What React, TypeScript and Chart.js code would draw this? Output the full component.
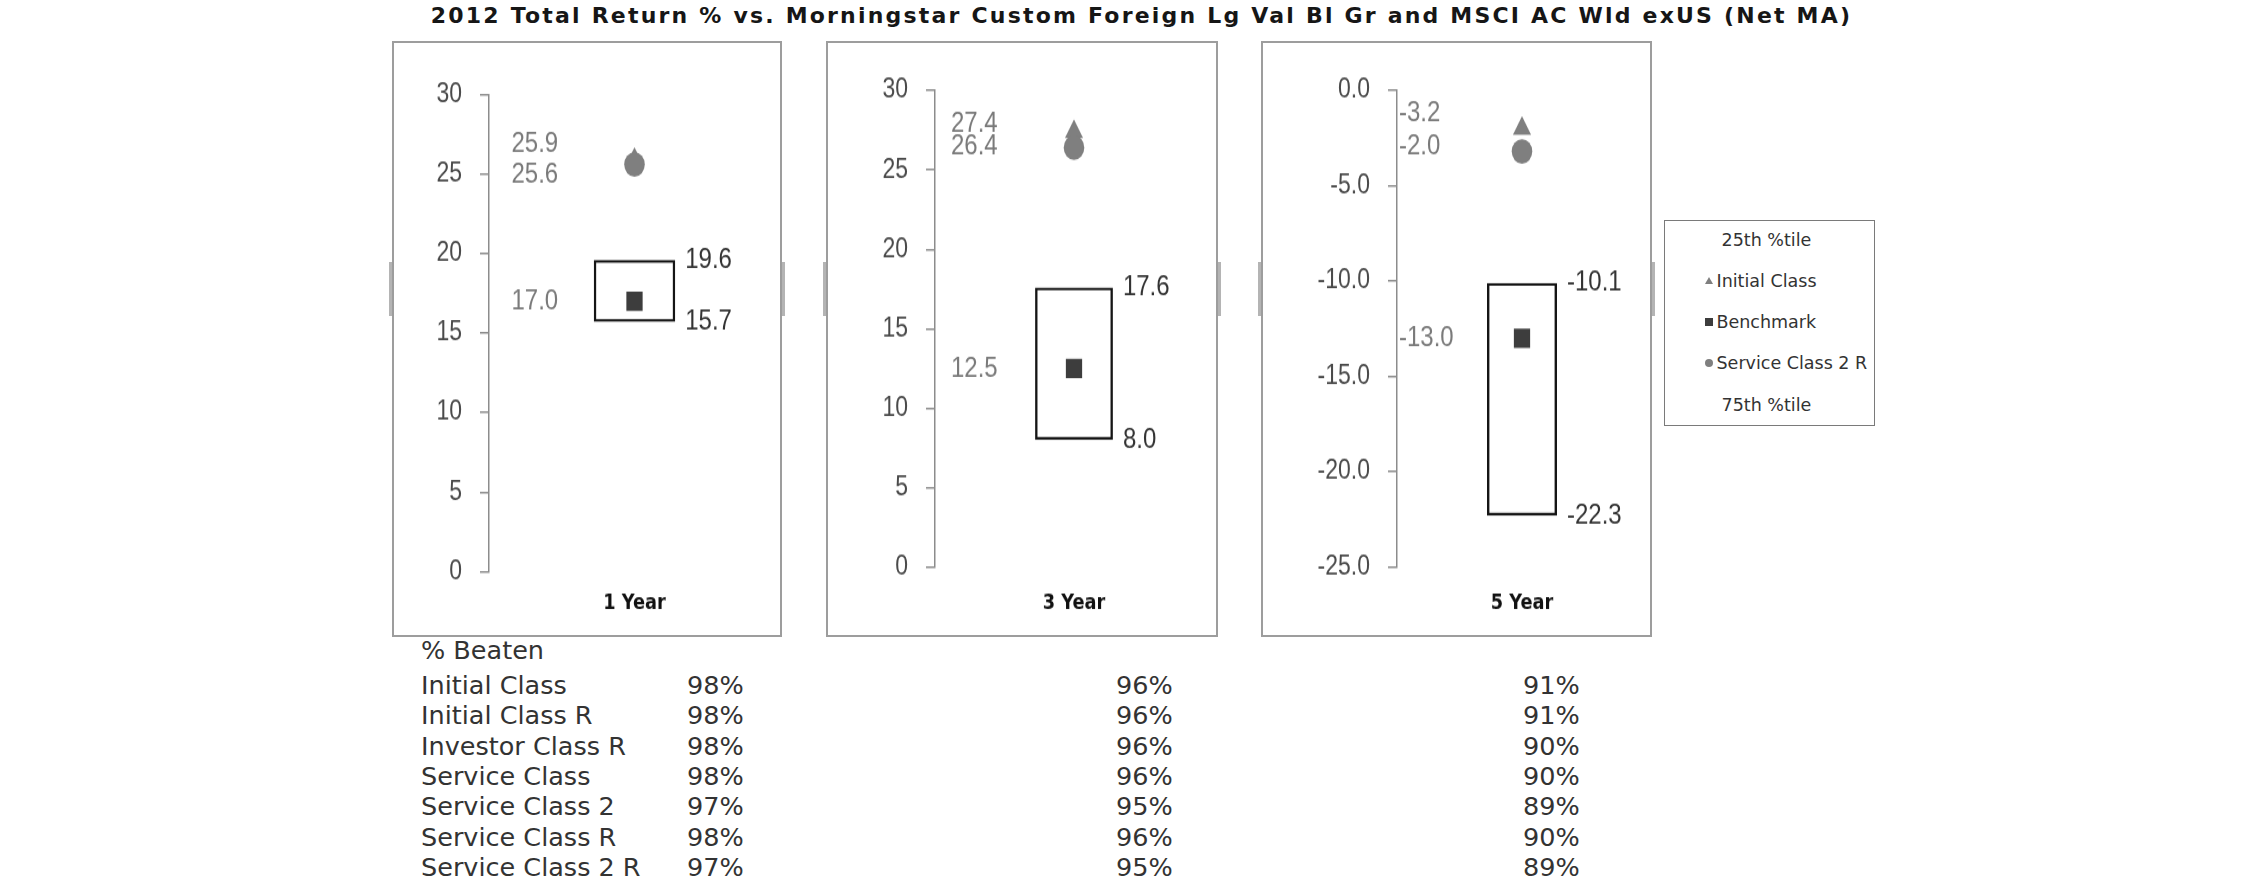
import React, { useEffect, useRef } from 'react';
import { Chart, registerables } from 'chart.js';

Chart.register(...registerables);

// ---------- data ----------
const titleText =
  '2012 Total Return % vs. Morningstar Custom Foreign Lg Val Bl Gr and MSCI AC Wld exUS (Net MA)';
const periods = ['1 Year', '3 Year', '5 Year'];
const pct25 = [19.6, 17.6, -10.1];
const pct75 = [15.7, 8.0, -22.3];
const benchmark = [17.0, 12.5, -13.0];
const initialClass = [25.9, 27.4, -2.0];
const serviceClass2R = [25.6, 26.4, -3.2];
const axisMin = [0, 0, -25];
const axisMax = [30, 30, 0];
const axisStep = [5, 5, 5];
const axisDecimals = [0, 0, 1];

const legendItems = ['25th %tile', 'Initial Class', 'Benchmark', 'Service Class 2 R', '75th %tile'];
const legendMarkers = ['', 'triangle', 'square', 'circle', ''];

const beatenTitle = '% Beaten';
const shareClasses = [
  'Initial Class',
  'Initial Class R',
  'Investor Class R',
  'Service Class',
  'Service Class 2',
  'Service Class R',
  'Service Class 2 R',
];
const beaten1Y = [98, 98, 98, 98, 97, 98, 97];
const beaten3Y = [96, 96, 96, 96, 95, 96, 95];
const beaten5Y = [91, 91, 90, 90, 89, 90, 89];

// ---------- layout ----------
// The original chart pictures are stretched vertically; each canvas is drawn
// at a smaller height and scaled up with CSS to reproduce that.
const CANVAS_H = 500;
const STRETCH = 592 / CANVAS_H;
const panelLayout = [
  { left: 392, top: 41, width: 390, height: 596, axisW: 95, padTop: 43.5, xAxisH: 53.6, padRight: 0, xTickPad: 16.2, labelGap: 30, labelShift: -2.8 },
  { left: 826, top: 41, width: 392, height: 596, axisW: 107, padTop: 40.1, xAxisH: 57.4, padRight: 3, xTickPad: 20, labelGap: 23, labelShift: -4.2 },
  { left: 1261, top: 41, width: 391, height: 596, axisW: 134, padTop: 40.1, xAxisH: 57.4, padRight: 3, xTickPad: 20, labelGap: 34, labelShift: -10.3 },
];
const beatenColX = [687, 1116, 1523];

const NUM_FONT = '"Liberation Sans", Arial, sans-serif';
const TXT_FONT = '"DejaVu Sans", Verdana, sans-serif';
const GRAY_MARK = '#7f7f7f';
const DARK_MARK = '#3d3d3d';

function makeLabelPlugin(i: number) {
  const L = panelLayout[i];
  return {
    id: 'valueLabels' + i,
    afterDatasetsDraw(chart: any) {
      const ctx = chart.ctx;
      const ys = chart.scales.y;
      const xs = chart.scales.x;
      const cx = xs.getPixelForValue(0);
      const bar = chart.getDatasetMeta(0).data[0] as any;
      const half = bar.width / 2;
      const fmt = (v: number) => v.toFixed(1);
      ctx.save();
      ctx.font = `24px ${NUM_FONT}`;
      ctx.textBaseline = 'middle';
      ctx.textAlign = 'left';
      // percentile labels on the right of the box
      ctx.fillStyle = '#333333';
      ctx.fillText(fmt(pct25[i]), cx + half + 10, ys.getPixelForValue(pct25[i]));
      ctx.fillText(fmt(pct75[i]), cx + half + 10, ys.getPixelForValue(pct75[i]));
      // fund / benchmark labels on the left
      const lx = cx - 123;
      ctx.fillStyle = '#7a7a7a';
      ctx.fillText(fmt(benchmark[i]), lx, ys.getPixelForValue(benchmark[i]));
      const pair = [initialClass[i], serviceClass2R[i]].sort((a, b) => Math.abs(b) - Math.abs(a));
      const mid = (ys.getPixelForValue(pair[0]) + ys.getPixelForValue(pair[1])) / 2 + L.labelShift / STRETCH;
      const g = L.labelGap / 2 / STRETCH;
      ctx.fillText(fmt(pair[0]), lx, mid - g);
      ctx.fillText(fmt(pair[1]), lx, mid + g);
      ctx.restore();
    },
  };
}

function Panel({ i }: { i: number }) {
  const ref = useRef<HTMLCanvasElement | null>(null);
  const L = panelLayout[i];
  useEffect(() => {
    if (!ref.current) return;
    const chart = new Chart(ref.current, {
      type: 'bar',
      data: {
        labels: [periods[i]],
        datasets: [
          {
            type: 'bar',
            label: '25th - 75th %tile',
            data: [[pct75[i], pct25[i]]] as any,
            backgroundColor: 'rgba(255,255,255,0)',
            borderColor: '#151515',
            borderWidth: 2.4,
            borderSkipped: false,
            barPercentage: 0.28,
            categoryPercentage: 1,
            order: 4,
          } as any,
          {
            type: 'line',
            label: 'Benchmark',
            data: [benchmark[i]],
            showLine: false,
            pointStyle: 'rect',
            pointRadius: 11.5,
            pointBackgroundColor: DARK_MARK,
            pointBorderColor: DARK_MARK,
            pointBorderWidth: 0,
            order: 3,
          } as any,
          {
            type: 'line',
            label: 'Initial Class',
            data: [initialClass[i]],
            showLine: false,
            pointStyle: 'triangle',
            pointRadius: 10.5,
            pointBackgroundColor: GRAY_MARK,
            pointBorderColor: GRAY_MARK,
            pointBorderWidth: 0,
            order: 2,
          } as any,
          {
            type: 'line',
            label: 'Service Class 2 R',
            data: [serviceClass2R[i]],
            showLine: false,
            pointStyle: 'circle',
            pointRadius: 10.3,
            pointBackgroundColor: GRAY_MARK,
            pointBorderColor: GRAY_MARK,
            pointBorderWidth: 0,
            order: 1,
          } as any,
        ],
      },
      options: {
        animation: false,
        responsive: false,
        maintainAspectRatio: false,
        events: [],
        layout: { autoPadding: false, padding: { top: L.padTop, right: L.padRight, left: 0, bottom: 0 } },
        plugins: {
          legend: { display: false },
          tooltip: { enabled: false },
          title: { display: false },
        },
        scales: {
          x: {
            type: 'category',
            grid: { display: false, drawTicks: false },
            border: { display: false },
            ticks: {
              padding: L.xTickPad,
              color: '#111111',
              font: { family: TXT_FONT, size: 17.8, weight: 'bold' },
            },
            afterFit: (s: any) => {
              s.height = L.xAxisH;
              s.paddingLeft = 0;
              s.paddingRight = 0;
            },
          },
          y: {
            type: 'linear',
            min: axisMin[i],
            max: axisMax[i],
            grid: {
              display: true,
              drawOnChartArea: false,
              drawTicks: true,
              tickLength: 9,
              color: '#8c8c8c',
              lineWidth: 1.5,
            },
            border: { display: true, color: '#8c8c8c', width: 1.5 },
            ticks: {
              stepSize: axisStep[i],
              padding: 18,
              color: '#4a4a4a',
              font: { family: NUM_FONT, size: 23 },
              callback: (v: any) => Number(v).toFixed(axisDecimals[i]),
            },
            afterFit: (s: any) => {
              s.width = L.axisW;
            },
          },
        },
      } as any,
      plugins: [makeLabelPlugin(i)],
    });
    return () => chart.destroy();
  }, [i]);
  const handle = (side: 'left' | 'right') => (
    <div
      style={{
        position: 'absolute',
        [side]: -5,
        top: 219,
        width: 3,
        height: 54,
        background: '#b4b4b4',
      }}
    />
  );
  return (
    <div
      style={{
        position: 'absolute',
        left: L.left,
        top: L.top,
        width: L.width,
        height: L.height,
        border: '2px solid #9d9d9d',
        boxSizing: 'border-box',
        background: '#ffffff',
      }}
    >
      {handle('left')}
      {handle('right')}
      <canvas
        ref={ref}
        width={L.width - 4}
        height={CANVAS_H}
        style={{ position: 'absolute', left: 0, top: 0, width: L.width - 4, height: L.height - 4 }}
      />
    </div>
  );
}

function LegendMarker({ kind }: { kind: string }) {
  if (kind === 'triangle')
    return (
      <div
        style={{
          position: 'absolute',
          left: -4,
          top: -4,
          width: 0,
          height: 0,
          borderLeft: '4px solid transparent',
          borderRight: '4px solid transparent',
          borderBottom: `7px solid ${GRAY_MARK}`,
        }}
      />
    );
  if (kind === 'square')
    return <div style={{ position: 'absolute', left: -4, top: -4, width: 8, height: 8, background: DARK_MARK }} />;
  if (kind === 'circle')
    return (
      <div
        style={{ position: 'absolute', left: -4, top: -4, width: 8, height: 8, borderRadius: '50%', background: GRAY_MARK }}
      />
    );
  return null;
}

export default function App() {
  const rowTop = (k: number) => 670 + 30.3 * k;
  return (
    <div
      style={{
        position: 'absolute',
        left: 0,
        top: 0,
        width: 2250,
        height: 895,
        background: '#ffffff',
        overflow: 'hidden',
      }}
    >
      <div
        style={{
          position: 'absolute',
          left: 1141.5,
          top: 5,
          transform: 'translateX(-50%)',
          whiteSpace: 'nowrap',
          font: `bold 22px ${TXT_FONT}`,
          lineHeight: '22px',
          letterSpacing: '2.2px',
          color: '#161616',
        }}
      >
        {titleText}
      </div>

      {periods.map((_, i) => (
        <Panel key={i} i={i} />
      ))}

      <div
        style={{
          position: 'absolute',
          left: 1664,
          top: 220,
          width: 211,
          height: 206,
          border: '1.5px solid #7a7a7a',
          boxSizing: 'border-box',
          font: `17.5px ${TXT_FONT}`,
          color: '#333333',
        }}
      >
        {legendItems.map((t, k) => {
          const cy = 18.5 + 41.25 * k;
          const hasMarker = legendMarkers[k] !== '';
          return (
            <React.Fragment key={t}>
              {hasMarker && (
                <div style={{ position: 'absolute', left: 43.5, top: cy }}>
                  <LegendMarker kind={legendMarkers[k]} />
                </div>
              )}
              <div
                style={{
                  position: 'absolute',
                  left: hasMarker ? 51.5 : 56.5,
                  top: cy - 10,
                  height: 20,
                  lineHeight: '20px',
                  whiteSpace: 'nowrap',
                }}
              >
                {t}
              </div>
            </React.Fragment>
          );
        })}
      </div>

      <div style={{ font: `25.5px ${TXT_FONT}`, color: '#333333' }}>
        <div style={{ position: 'absolute', left: 421, top: 635, lineHeight: '30px', whiteSpace: 'nowrap' }}>
          {beatenTitle}
        </div>
        {shareClasses.map((name, k) => (
          <React.Fragment key={name}>
            <div style={{ position: 'absolute', left: 421, top: rowTop(k), lineHeight: '30px', whiteSpace: 'nowrap' }}>
              {name}
            </div>
            {[beaten1Y, beaten3Y, beaten5Y].map((col, c) => (
              <div
                key={c}
                style={{ position: 'absolute', left: beatenColX[c], top: rowTop(k), lineHeight: '30px', whiteSpace: 'nowrap' }}
              >
                {col[k] + '%'}
              </div>
            ))}
          </React.Fragment>
        ))}
      </div>
    </div>
  );
}
